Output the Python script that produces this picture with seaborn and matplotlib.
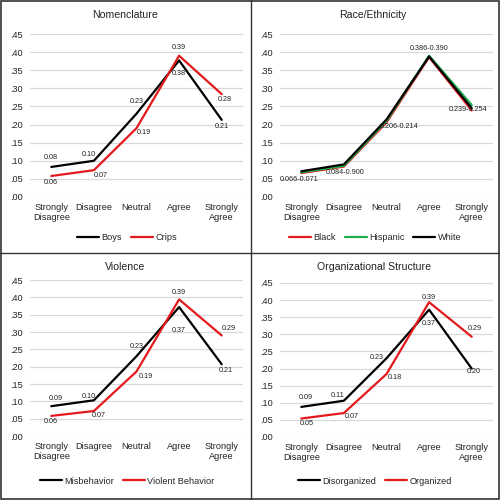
import pandas as pd
import matplotlib
matplotlib.use("Agg")
import matplotlib.pyplot as plt
import seaborn as sns
from matplotlib.patches import Rectangle
from matplotlib.lines import Line2D

sns.set_theme(style="white")
plt.rcParams["font.family"] = ["Liberation Sans", "DejaVu Sans"]

# Data
categories = ["Strongly\nDisagree", "Disagree", "Neutral", "Agree", "Strongly\nAgree"]

boys = [0.083, 0.100, 0.230, 0.377, 0.213]
crips = [0.058, 0.074, 0.190, 0.390, 0.284]

black = [0.066, 0.084, 0.206, 0.386, 0.239]
hispanic = [0.068, 0.086, 0.210, 0.390, 0.254]
white = [0.071, 0.090, 0.214, 0.388, 0.245]
race_labels = ["0.066-0.071", "0.084-0.900", "0.206-0.214", "0.386-0.390", "0.239-0.254"]

misbehavior = [0.086, 0.103, 0.230, 0.372, 0.207]
violent = [0.058, 0.072, 0.186, 0.394, 0.290]

disorganized = [0.088, 0.106, 0.230, 0.372, 0.200]
organized = [0.054, 0.070, 0.184, 0.394, 0.293]

RED = "#e3191c"
GREEN = "#1fb04e"
BLACK = "#000000"

fig = plt.figure(figsize=(5, 5), dpi=100)

# axes rectangles in figure fraction
rects = {
    "tl": [0.060, 0.606, 0.426, 0.326],
    "tr": [0.560, 0.606, 0.426, 0.326],
    "bl": [0.060, 0.128, 0.426, 0.312],
    "br": [0.560, 0.126, 0.426, 0.308],
}


def style_axes(ax):
    ax.set_xlim(-0.5, 4.5)
    ax.set_ylim(0, 0.45)
    ax.set_yticks([i * 0.05 for i in range(10)])
    ax.set_yticklabels([f"{i * 0.05:.2f}".lstrip("0") for i in range(10)])
    ax.yaxis.grid(True, color="#d9d9d9", lw=0.9)
    ax.xaxis.grid(False)
    for s in ax.spines.values():
        s.set_visible(False)
    ax.tick_params(axis="both", length=0, labelsize=6.6, colors="#222222")
    ax.tick_params(axis="x", pad=4)
    ax.tick_params(axis="y", pad=5)
    ax.set_xlabel("")
    ax.set_ylabel("")


def draw_panel(key, series, colors, title, title_xy, legend_xy):
    ax = fig.add_axes(rects[key])
    frames = [pd.DataFrame({"cat": categories, "val": vals, "group": name})
              for name, vals in series.items()]
    df = pd.concat(frames, ignore_index=True)
    sns.lineplot(data=df, x="cat", y="val", hue="group", palette=colors,
                 sort=False, lw=1.6, ax=ax, legend=False)
    style_axes(ax)
    fig.text(title_xy[0], title_xy[1], title, ha="center", va="center",
             fontsize=7.6, color="#222222")
    handles = [Line2D([], [], color=colors[n], lw=1.6) for n in series]
    fig.legend(handles, list(series.keys()), loc="center",
               bbox_to_anchor=legend_xy, ncol=len(series), frameon=False,
               fontsize=6.6, handlelength=2.4, handletextpad=0.25,
               columnspacing=1.0)
    return ax


def put_labels(ax, vals, offsets, texts=None):
    for i, v in enumerate(vals):
        t = texts[i] if texts else f"{v:.2f}"
        ax.annotate(t, (i, v), xytext=offsets[i], textcoords="offset pixels",
                    ha="center", va="center", fontsize=5.2, color="#222222")


# Nomenclature
ax = draw_panel("tl", {"Boys": boys, "Crips": crips},
                {"Boys": BLACK, "Crips": RED}, "Nomenclature",
                (0.25, 0.970), (0.254, 0.524))
put_labels(ax, boys, [(0, 9), (-5, 6), (0, 12), (0, -13), (0, -7)])
put_labels(ax, crips, [(0, -7), (7, -5), (7, -4), (0, 8), (3, -5)])

# Race/Ethnicity
ax = draw_panel("tr", {"Black": black, "Hispanic": hispanic, "White": white},
                {"Black": RED, "Hispanic": GREEN, "White": BLACK},
                "Race/Ethnicity", (0.745, 0.970), (0.75, 0.524))
put_labels(ax, hispanic, [(-2, -7), (1, -7), (13, -6), (0, 7), (-4, -5)],
           race_labels)

# Violence
ax = draw_panel("bl", {"Misbehavior": misbehavior, "Violent Behavior": violent},
                {"Misbehavior": BLACK, "Violent Behavior": RED}, "Violence",
                (0.25, 0.466), (0.254, 0.038))
put_labels(ax, misbehavior, [(5, 8), (-5, 4), (0, 10), (0, -23), (4, -6)])
put_labels(ax, violent, [(0, -6), (5, -4), (9, -5), (0, 7), (7, 7)])

# Organizational Structure
ax = draw_panel("br", {"Disorganized": disorganized, "Organized": organized},
                {"Disorganized": BLACK, "Organized": RED},
                "Organizational Structure", (0.748, 0.466), (0.75, 0.038))
put_labels(ax, disorganized, [(5, 9), (-6, 5), (-10, 1), (0, -14), (2, -3)])
put_labels(ax, organized, [(5, -5), (8, -3), (8, -3), (0, 5), (3, 8)])

# panel borders
fig.add_artist(Rectangle((0.002, 0.002), 0.996, 0.996, transform=fig.transFigure,
                         fill=False, ec="#333333", lw=1.2))
fig.add_artist(Line2D([0.502, 0.502], [0, 1], transform=fig.transFigure,
                      color="#333333", lw=1.0))
fig.add_artist(Line2D([0, 1], [0.494, 0.494], transform=fig.transFigure,
                      color="#333333", lw=1.0))

fig.savefig("out.png", dpi=100)
